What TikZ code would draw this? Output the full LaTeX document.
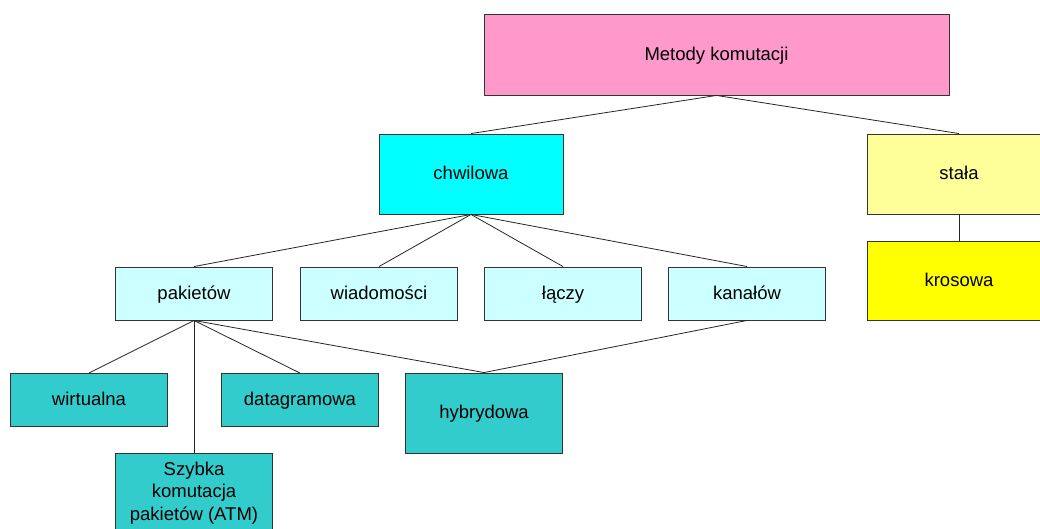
\documentclass[tikz,border=0pt]{standalone}
\usepackage{fontspec}
\setmainfont{Liberation Sans}
\definecolor{cpink}{HTML}{FF99CC}
\definecolor{ccyan}{HTML}{00FFFF}
\definecolor{clyellow}{HTML}{FFFF99}
\definecolor{cyellow}{HTML}{FFFF00}
\definecolor{clcyan}{HTML}{CCFFFF}
\definecolor{cteal}{HTML}{33CCCC}
\definecolor{cedge}{HTML}{333333}
\begin{document}
\begin{tikzpicture}[x=1pt,y=-1pt,
  anybox/.style={draw=cedge, line width=0.9pt, rectangle, inner sep=0pt,
    align=center, font=\fontsize{18.5}{22.5}\selectfont},
  box/.style={anybox, text height=14.5pt, text depth=3pt},
  bigbox/.style={box, minimum width=184pt, minimum height=80pt},
  smallbox/.style={box, minimum width=157pt, minimum height=53pt},
  link/.style={draw=black!85, line width=0.8pt}]
  \clip (0,0) rectangle (1040,529);
  \fill[white] (0,0) rectangle (1040,529);

  % top level
  \node[box, fill=cpink, minimum width=465pt, minimum height=81pt] (metody) at (716.5,54.5) {Metody komutacji};

  % second level
  \node[bigbox, fill=ccyan] (chwilowa) at (471,174) {chwilowa};
  \node[bigbox, fill=clyellow] (stala) at (959,174) {stała};
  \node[bigbox, fill=cyellow, minimum height=79pt] (krosowa) at (959,280.5) {krosowa};

  % third level
  \node[smallbox, fill=clcyan] (pakietow) at (194,293.5) {pakietów};
  \node[smallbox, fill=clcyan] (wiadomosci) at (379,293.5) {wiadomości};
  \node[smallbox, fill=clcyan] (laczy) at (563,293.5) {łączy};
  \node[smallbox, fill=clcyan] (kanalow) at (747,293.5) {kanałów};

  % fourth level
  \node[smallbox, fill=cteal] (wirtualna) at (89,400) {wirtualna};
  \node[smallbox, fill=cteal] (datagramowa) at (300,400) {datagramowa};
  \node[smallbox, fill=cteal, minimum height=80pt] (hybrydowa) at (484,413) {hybrydowa};
  \node[anybox, fill=cteal, minimum width=157pt, minimum height=80pt] (szybka) at (194,493) {Szybka\\komutacja\\pakietów (ATM)};

  % connectors
  \draw[link] (metody.south) -- (chwilowa.north);
  \draw[link] (metody.south) -- (stala.north);
  \draw[link] (stala.south) -- (krosowa.north);
  \draw[link] (chwilowa.south) -- (pakietow.north);
  \draw[link] (chwilowa.south) -- (wiadomosci.north);
  \draw[link] (chwilowa.south) -- (laczy.north);
  \draw[link] (chwilowa.south) -- (kanalow.north);
  \draw[link] (pakietow.south) -- (wirtualna.north);
  \draw[link] (pakietow.south) -- (datagramowa.north);
  \draw[link] (pakietow.south) -- (hybrydowa.north);
  \draw[link] (pakietow.south) -- (szybka.north);
  \draw[link] (kanalow.south) -- (hybrydowa.north);
\end{tikzpicture}
\end{document}
